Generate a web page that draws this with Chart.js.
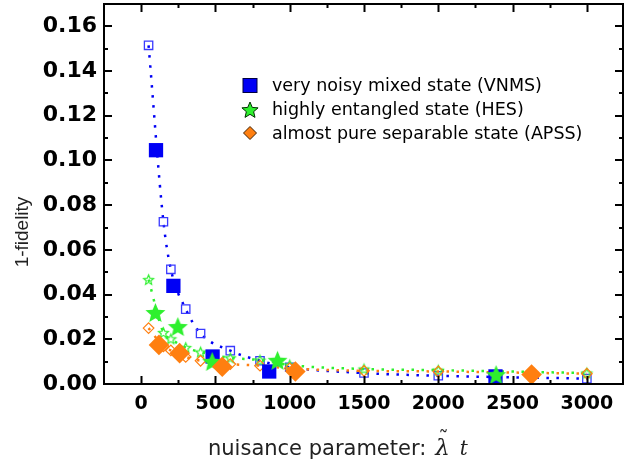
<!DOCTYPE html>
<html>
<head>
<meta charset="utf-8">
<script src="https://cdn.jsdelivr.net/npm/chart.js@4.4.0/dist/chart.umd.min.js"></script>
<style>
html, body { margin: 0; padding: 0; background: #fff; }
canvas { display: block; }
</style>
</head>
<body>
<canvas id="fidelityChart" width="624" height="464"></canvas>
<script>

// open symbols + dotted curves (same x for all three states)
var xOpen = [50, 150, 200, 300, 400, 600, 800, 1000, 1500, 2000, 3000];
var vnmsOpen = [0.1515, 0.0726, 0.0513, 0.0335, 0.0226, 0.0149, 0.0104, 0.0075, 0.0049, 0.0037, 0.0024];
var hesOpen  = [0.0467, 0.0230, 0.0202, 0.0163, 0.0143, 0.0117, 0.0107, 0.0085, 0.0067, 0.0062, 0.0049];
var apssOpen = [0.0250, 0.0168, 0.0150, 0.0121, 0.0104, 0.0089, 0.0082, 0.0070, 0.0059, 0.0056, 0.0046];

// filled symbols
var vnmsX = [100, 217, 481, 862, 2385];
var vnmsY = [0.1046, 0.0439, 0.0123, 0.0056, 0.0034];
var hesX  = [96, 247, 478, 918, 2389];
var hesY  = [0.0320, 0.0257, 0.0101, 0.0106, 0.0042];
var apssX = [120, 259, 546, 1038, 2628];
var apssY = [0.0175, 0.0138, 0.0077, 0.0056, 0.0042];

var legendLabels = [
	"very noisy mixed state (VNMS)",
	"highly entangled state (HES)",
	"almost pure separable state (APSS)"
];

var xTicks = [0, 500, 1000, 1500, 2000, 2500, 3000];
var xMinor = [250, 750, 1250, 1750, 2250, 2750];
var yTicks = [0, 0.02, 0.04, 0.06, 0.08, 0.10, 0.12, 0.14, 0.16];
var yMinor = [0.01, 0.03, 0.05, 0.07, 0.09, 0.11, 0.13, 0.15];

var BLUE = "#0000f5";
var BLUE_OPEN = "#3a3aff";
var GREEN = "#2ef02e";
var ORANGE = "#ff7f10";

function pts(xs, ys){
	var out = [];
	for (var i = 0; i < xs.length; i++){ out.push({x: xs[i], y: ys[i]}); }
	return out;
}

function starPath(g, cx, cy, r){
	g.beginPath();
	for (var i = 0; i < 10; i++){
		var rr = (i % 2) ? r * 0.45 : r;
		var a = -Math.PI / 2 + i * Math.PI / 5;
		g.lineTo(cx + rr * Math.cos(a), cy + rr * Math.sin(a));
	}
	g.closePath();
}

function starImage(r, fill, stroke, lw){
	var c = document.createElement('canvas');
	var s = Math.ceil(2 * r + 2 * lw + 2);
	c.width = s; c.height = s;
	var g = c.getContext('2d');
	starPath(g, s / 2, s / 2 + r * 0.1, r);
	if (fill){ g.fillStyle = fill; g.fill(); }
	if (stroke){ g.strokeStyle = stroke; g.lineWidth = lw; g.stroke(); }
	return c;
}

var starBig = starImage(10.5, GREEN, null, 0);
var starSmall = starImage(5.2, "rgba(0,0,0,0)", GREEN, 1.2);

// frame with inward ticks on all four sides
var framePlugin = {
	id: 'frame',
	afterDraw: function(chart){
		var ctx = chart.ctx, a = chart.chartArea;
		var xs = chart.scales.x, ys = chart.scales.y;
		ctx.save();
		ctx.strokeStyle = "#000";
		ctx.lineWidth = 2;
		ctx.strokeRect(a.left, a.top, a.right - a.left - 1, a.bottom - a.top);
		ctx.beginPath();
		function xt(v, len){
			var p = Math.round(xs.getPixelForValue(v)) + 0.5;
			ctx.moveTo(p, a.bottom); ctx.lineTo(p, a.bottom - len);
			ctx.moveTo(p, a.top); ctx.lineTo(p, a.top + len);
		}
		function yt(v, len){
			var p = Math.round(ys.getPixelForValue(v));
			ctx.moveTo(a.left, p); ctx.lineTo(a.left + len, p);
			ctx.moveTo(a.right - 1, p); ctx.lineTo(a.right - 1 - len, p);
		}
		xTicks.forEach(function(v){ xt(v, 8); });
		xMinor.forEach(function(v){ xt(v, 4); });
		yTicks.forEach(function(v){ yt(v, 8); });
		yMinor.forEach(function(v){ yt(v, 4); });
		ctx.stroke();
		ctx.restore();
	}
};

// legend inside the plot + axis titles
var textPlugin = {
	id: 'texts',
	afterDraw: function(chart){
		var ctx = chart.ctx;
		ctx.save();

		var lx = 250, ly = [85.5, 109.5, 133];
		// square
		ctx.fillStyle = BLUE;
		ctx.fillRect(lx - 7, ly[0] - 7, 14, 14);
		ctx.strokeStyle = "#000040";
		ctx.lineWidth = 1;
		ctx.strokeRect(lx - 7, ly[0] - 7, 14, 14);
		// star
		starPath(ctx, lx, ly[1] + 1, 8.5);
		ctx.fillStyle = GREEN; ctx.fill();
		ctx.strokeStyle = "#003000"; ctx.stroke();
		// diamond
		ctx.beginPath();
		ctx.moveTo(lx, ly[2] - 6.5); ctx.lineTo(lx + 6.5, ly[2]);
		ctx.lineTo(lx, ly[2] + 6.5); ctx.lineTo(lx - 6.5, ly[2]);
		ctx.closePath();
		ctx.fillStyle = ORANGE; ctx.fill();
		ctx.strokeStyle = "#402000"; ctx.stroke();

		ctx.fillStyle = "#000";
		ctx.font = "17.5px 'DejaVu Sans'";
		ctx.textBaseline = "middle";
		ctx.textAlign = "left";
		for (var i = 0; i < legendLabels.length; i++){
			ctx.fillText(legendLabels[i], 272, ly[i] + 1);
		}

		// y title
		ctx.save();
		ctx.translate(23, 232);
		ctx.rotate(-Math.PI / 2);
		ctx.textAlign = "center";
		ctx.font = "19px 'Liberation Sans'";
		ctx.fillStyle = "#222";
		ctx.fillText("1-fidelity", 0, 0);
		ctx.restore();

		// x title
		ctx.textBaseline = "alphabetic";
		ctx.font = "21px 'DejaVu Sans'";
		ctx.fillStyle = "#222";
		var t1 = "nuisance parameter:";
		ctx.fillText(t1, 208, 455);
		var px = 208 + ctx.measureText(t1).width + 9;
		ctx.font = "italic 23px 'DejaVu Serif'";
		ctx.fillText("\u03bb", px, 455);
		var lw = ctx.measureText("\u03bb").width;
		ctx.textAlign = "center";
		ctx.font = "20px 'DejaVu Serif'";
		ctx.fillText("\u02dc", px + lw / 2 + 1, 445);
		ctx.textAlign = "left";
		ctx.font = "italic 20px 'DejaVu Serif'";
		ctx.fillText("t", px + lw + 10, 455);

		ctx.restore();
	}
};

function init_chart_fidelity(){

	if( typeof (Chart) === 'undefined'){ return; }

	var dotted = [2.5, 7.5];

	var settings = {
		type: 'scatter',
		data: {
			datasets: [
				{
					label: legendLabels[2] + " filled",
					data: pts(apssX, apssY),
					order: 0,
					pointStyle: 'rectRot',
					pointRadius: 10.3,
					backgroundColor: ORANGE,
					borderColor: ORANGE,
					borderWidth: 0
				},
				{
					label: legendLabels[1] + " filled",
					data: pts(hesX, hesY),
					order: 1,
					pointStyle: starBig,
					backgroundColor: GREEN,
					borderColor: GREEN
				},
				{
					label: legendLabels[0] + " filled",
					data: pts(vnmsX, vnmsY),
					order: 2,
					pointStyle: 'rect',
					pointRadius: 10.1,
					backgroundColor: BLUE,
					borderColor: BLUE,
					borderWidth: 0
				},
				{
					label: legendLabels[2],
					data: pts(xOpen, apssOpen),
					order: 3,
					showLine: true,
					cubicInterpolationMode: 'monotone',
					borderDash: dotted,
					borderWidth: 2.5,
					borderColor: ORANGE,
					pointStyle: 'rectRot',
					pointRadius: 5.3,
					pointBackgroundColor: "rgba(0,0,0,0)",
					pointBorderColor: ORANGE,
					pointBorderWidth: 1.2
				},
				{
					label: legendLabels[1],
					data: pts(xOpen, hesOpen),
					order: 4,
					showLine: true,
					cubicInterpolationMode: 'monotone',
					borderDash: dotted,
					borderWidth: 2.5,
					borderColor: GREEN,
					pointStyle: starSmall
				},
				{
					label: legendLabels[0],
					data: pts(xOpen, vnmsOpen),
					order: 5,
					showLine: true,
					cubicInterpolationMode: 'monotone',
					borderDash: dotted,
					borderWidth: 2.5,
					borderColor: BLUE,
					pointStyle: 'rect',
					pointRadius: 5.9,
					pointBackgroundColor: "rgba(0,0,0,0)",
					pointBorderColor: BLUE_OPEN,
					pointBorderWidth: 1.3
				}
			]
		},
		options: {
			responsive: false,
			animation: false,
			devicePixelRatio: 1,
			layout: { autoPadding: false, padding: { top: 4, right: 0, left: 0, bottom: 0 } },
			plugins: {
				legend: { display: false },
				tooltip: { enabled: false }
			},
			scales: {
				x: {
					type: 'linear',
					min: -250,
					max: 3250,
					grid: { display: false, drawTicks: false },
					border: { display: false },
					afterBuildTicks: function(s){ s.ticks = xTicks.map(function(v){ return {value: v}; }); },
					afterFit: function(s){
						s.height = 80;
						s.paddingLeft = 0; s.paddingRight = 0;
					},
					ticks: {
						color: "#000",
						padding: 9,
						maxRotation: 0,
						font: { family: "'DejaVu Sans'", weight: 'bold', size: 19 },
						callback: function(v){ return String(v); }
					}
				},
				y: {
					type: 'linear',
					min: 0,
					max: 0.17,
					grid: { display: false, drawTicks: false },
					border: { display: false },
					afterBuildTicks: function(s){ s.ticks = yTicks.map(function(v){ return {value: v}; }); },
					afterFit: function(s){
						s.width = 104;
						s.paddingTop = 0; s.paddingBottom = 0;
					},
					ticks: {
						color: "#000",
						padding: 7,
						font: { family: "'DejaVu Sans'", weight: 'bold', size: 22 },
						callback: function(v){ return v.toFixed(2); }
					}
				}
			}
		},
		plugins: [framePlugin, textPlugin]
	};

	var chart_element = document.getElementById('fidelityChart');
	var chart_fidelity = new Chart(chart_element, settings);
}

init_chart_fidelity();
</script>
</body>
</html>
